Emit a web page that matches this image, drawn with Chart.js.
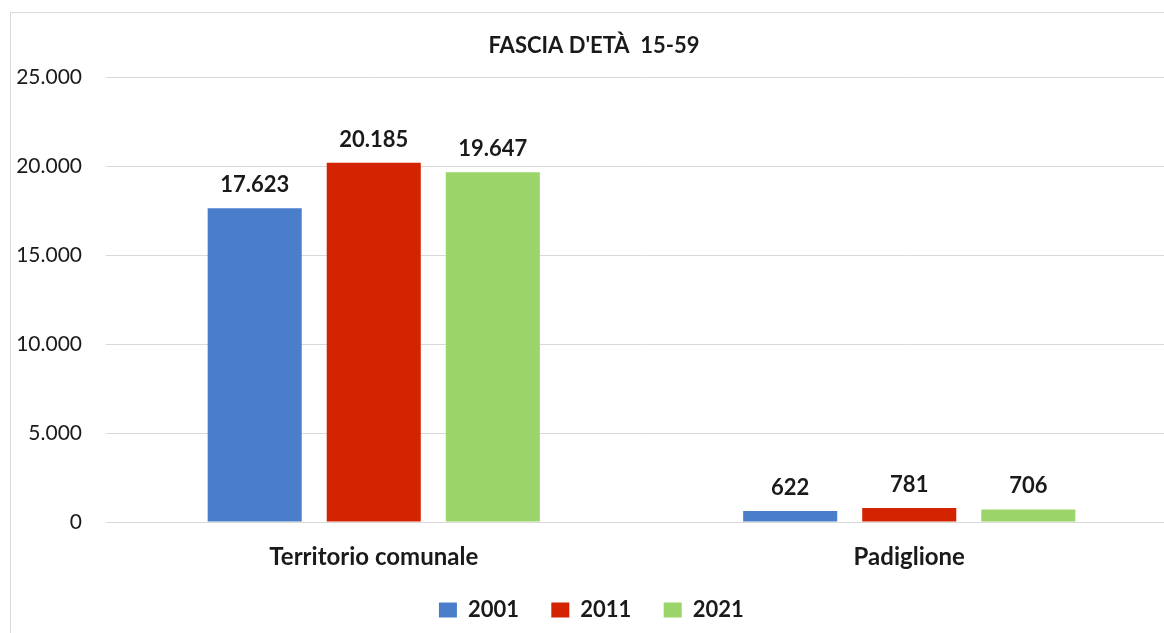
<!DOCTYPE html>
<html>
<head>
<meta charset="utf-8">
<script src="https://cdn.jsdelivr.net/npm/chart.js@4"></script>
<style>
  html, body { margin: 0; padding: 0; background: #ffffff; overflow: hidden; width: 1164px; height: 633px; }
  #frame { position: absolute; left: 10px; top: 12px; width: 1166px; height: 620px; border: 1px solid #d9d9d9; background: #fff; }
  #frame canvas { display: block; }
</style>
</head>
<body>
<div id="frame"><canvas id="chart" width="1166" height="620"></canvas></div>
<script>
// Popolazione in fascia d'età 15-59
const categories = ['Territorio comunale', 'Padiglione'];
const years = ['2001', '2011', '2021'];
const values2001 = [17623, 622];
const values2011 = [20185, 781];
const values2021 = [19647, 706];
const yTicks = [0, 5000, 10000, 15000, 20000, 25000];
const chartTitle = "FASCIA D'ETÀ  15-59";

const colors = ['#4a7ecb', '#d42300', '#9bd468'];
const FONT = 'Lato, "Liberation Sans", sans-serif';

// separatore delle migliaia con il punto
function fmtThousands(v) {
  const s = String(Math.round(v));
  return s.replace(/\B(?=(\d{3})+(?!\d))/g, '.');
}

// Etichette dei valori sopra le barre
const valueLabels = {
  id: 'valueLabels',
  afterDatasetsDraw(chart) {
    const ctx = chart.ctx;
    ctx.save();
    ctx.font = 'bold 22px ' + FONT;
    ctx.fillStyle = '#1a1a1a';
    ctx.textAlign = 'center';
    ctx.textBaseline = 'alphabetic';
    chart.data.datasets.forEach((ds, di) => {
      const meta = chart.getDatasetMeta(di);
      meta.data.forEach((bar, i) => {
        ctx.fillText(fmtThousands(ds.data[i]), bar.x, bar.y - 16);
      });
    });
    ctx.restore();
  }
};

new Chart(document.getElementById('chart'), {
  type: 'bar',
  data: {
    labels: categories,
    datasets: [
      { label: years[0], data: values2001, backgroundColor: colors[0] },
      { label: years[1], data: values2011, backgroundColor: colors[1] },
      { label: years[2], data: values2021, backgroundColor: colors[2] }
    ]
  },
  options: {
    responsive: false,
    animation: false,
    layout: { padding: { top: 0, right: 0, bottom: 2, left: 0 } },
    datasets: {
      bar: { categoryPercentage: 0.667, barPercentage: 0.79 }
    },
    scales: {
      x: {
        afterFit(scale) { scale.height = 50; },
        grid: { display: false, drawTicks: false },
        border: { display: true, color: '#d9d9d9', width: 1 },
        ticks: { color: '#1a1a1a', font: { family: FONT, size: 24, weight: 'bold' }, padding: 21 }
      },
      y: {
        min: 0,
        max: 25000,
        afterBuildTicks(scale) { scale.ticks = yTicks.map(v => ({ value: v })); },
        afterFit(scale) { scale.width = 95; },
        grid: { color: '#d9d9d9', lineWidth: 1, drawTicks: false },
        border: { display: false },
        ticks: {
          color: '#1a1a1a',
          padding: 24,
          font: { family: FONT, size: 21 },
          callback: v => fmtThousands(v)
        }
      }
    },
    plugins: {
      title: {
        display: true,
        text: chartTitle,
        color: '#1a1a1a',
        font: { family: FONT, size: 22, weight: 'bold' },
        padding: { top: 20, bottom: 17.6 }
      },
      legend: {
        position: 'bottom',
        labels: {
          color: '#1a1a1a',
          font: { family: FONT, size: 22, weight: 'bold' },
          boxWidth: 18,
          boxHeight: 15,
          padding: 27,
          generateLabels(chart) {
            return Chart.defaults.plugins.legend.labels.generateLabels(chart)
              .map(item => Object.assign(item, { text: item.text + ' ' }));
          }
        }
      },
      tooltip: { enabled: false }
    }
  },
  plugins: [valueLabels]
});
</script>
</body>
</html>
